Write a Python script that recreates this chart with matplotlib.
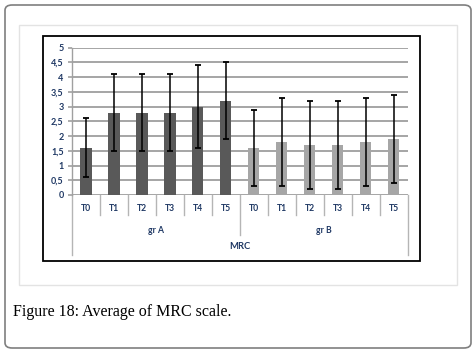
import numpy as np
import matplotlib.pyplot as plt
from matplotlib.patches import Rectangle, FancyBboxPatch

# data
times = ['T0', 'T1', 'T2', 'T3', 'T4', 'T5']
groups = ['gr A', 'gr B']
scale_name = 'MRC'
mean_a = [1.6, 2.8, 2.8, 2.8, 3.0, 3.2]
err_a = [1.0, 1.3, 1.3, 1.3, 1.4, 1.3]
mean_b = [1.6, 1.8, 1.7, 1.7, 1.8, 1.9]
err_b = [1.3, 1.5, 1.5, 1.5, 1.5, 1.5]
yticks = [0, 0.5, 1, 1.5, 2, 2.5, 3, 3.5, 4, 4.5, 5]

W, H = 476, 352
fig = plt.figure(figsize=(W / 100, H / 100), dpi=100)

def fx(px):
    return px / W

def fy(py):
    return 1 - py / H

# page frames
fig.patches.append(FancyBboxPatch((fx(5), fy(348)), fx(466), (343) / H,
                                  boxstyle='round,pad=0,rounding_size=0.015',
                                  transform=fig.transFigure, fill=False,
                                  ec='#7f7f7f', lw=1.2))
fig.patches.append(Rectangle((fx(19), fy(285)), fx(438), 260 / H,
                             transform=fig.transFigure, fill=False,
                             ec='#e3e3e3', lw=1.0))
fig.patches.append(Rectangle((fx(43), fy(261)), fx(377), 225 / H,
                             transform=fig.transFigure, fill=False,
                             ec='black', lw=1.3))

ax = fig.add_axes([fx(72), fy(195), fx(407.7 - 72), (195 - 47.7) / H])
lab_col = '#1f3864'
x = np.arange(len(times) * 2)
ax.bar(x[:6], mean_a, width=0.4, color='#595959', zorder=3)
ax.bar(x[6:], mean_b, width=0.4, color='#a6a6a6', zorder=3)
ax.errorbar(x[:6], mean_a, yerr=err_a, fmt='none', ecolor='black',
            elinewidth=1.1, capsize=2.2, capthick=1.3, zorder=4)
ax.errorbar(x[6:], mean_b, yerr=err_b, fmt='none', ecolor='black',
            elinewidth=1.1, capsize=2.2, capthick=1.3, zorder=4)

ax.set_xlim(-0.5, len(x) - 0.5)
ax.set_ylim(0, 5)
ax.set_yticks(yticks)
ax.set_yticklabels([('%g' % t).replace('.', ',') for t in yticks],
                   fontsize=6.5, fontweight='bold', color=lab_col,
                   family='Lato')
ax.tick_params(axis='y', length=3, color='#a0a0a0', width=1.2, pad=3)
ax.set_xticks([])
ax.grid(axis='y', color='#a5a5a5', lw=1.4, zorder=0)
for s in ['top', 'right', 'bottom']:
    ax.spines[s].set_visible(False)
ax.spines['left'].set_color('#a0a0a0')
ax.spines['left'].set_linewidth(1.0)

tr = ax.get_xaxis_transform()
sep = '#b5b5b5'
for i in range(len(x) + 1):
    if i == 0 or i == len(x):
        lo = -0.407
    elif i == len(times):
        lo = -0.272
    else:
        lo = -0.136
    ax.plot([i - 0.5, i - 0.5], [0, lo], transform=tr, color=sep, lw=1.0,
            clip_on=False)
for i, xi in enumerate(x):
    ax.text(xi, -0.095, times[i % len(times)], transform=tr, ha='center',
            va='center', fontsize=6.2, fontweight='bold', color=lab_col,
            family='Lato')
for g, name in enumerate(groups):
    ax.text(g * len(times) + (len(times) - 1) / 2, -0.238, name, transform=tr,
            ha='center', va='center', fontsize=6.2, fontweight='bold',
            color=lab_col, family='Lato')
ax.text((len(x) - 1) / 2, -0.351, scale_name, transform=tr, ha='center',
        va='center', fontsize=6.8, fontweight='bold', color=lab_col,
        family='Lato')

fig.text(fx(13), fy(312), 'Figure 18: Average of MRC scale.',
         family='Liberation Serif', fontsize=11.5, va='center', ha='left')

fig.savefig('out.png', dpi=100)
